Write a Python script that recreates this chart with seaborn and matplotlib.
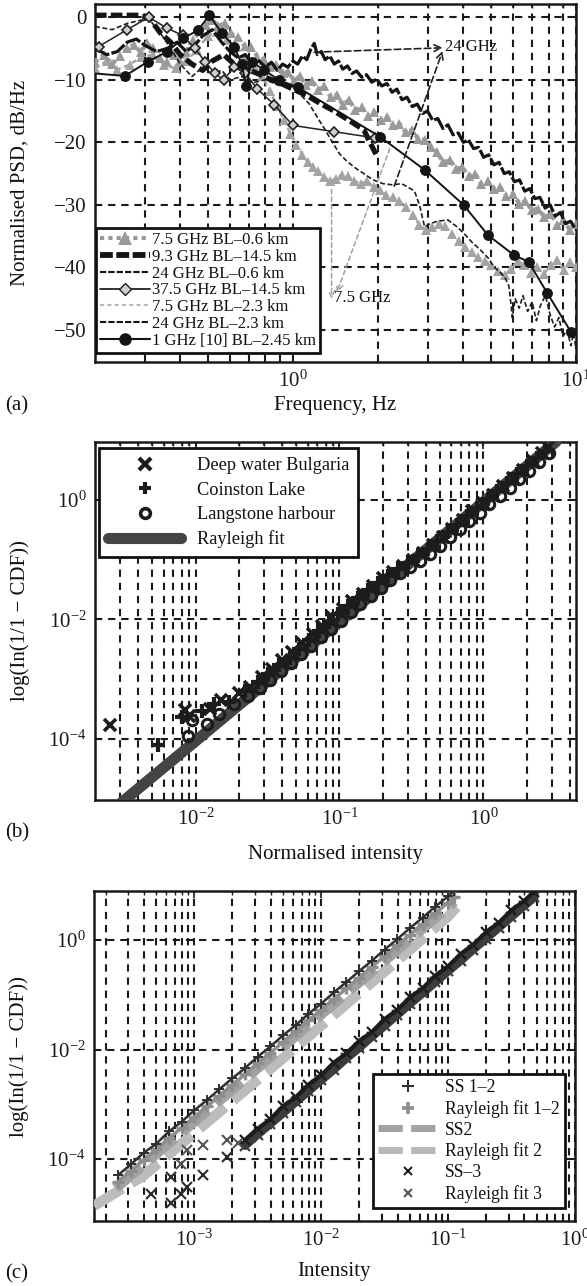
import numpy as np
import pandas as pd
import matplotlib
matplotlib.use("Agg")
import matplotlib.pyplot as plt
from matplotlib.lines import Line2D
from matplotlib.ticker import (FixedLocator, LogLocator, LogFormatterSciNotation,
                               MultipleLocator, NullFormatter, NullLocator)
import seaborn as sns

# ---------------------------------------------------------------- data (a)
f_75_06 = [0.200, 0.215, 0.230, 0.245, 0.260, 0.275, 0.290, 0.305, 0.320, 0.340,
           0.360, 0.380, 0.400, 0.420, 0.445, 0.470, 0.495, 0.520, 0.545, 0.575,
           0.605, 0.640, 0.675, 0.710, 0.750, 0.790, 0.830, 0.875, 0.920, 0.965,
           1.01, 1.06, 1.11, 1.17, 1.23, 1.29, 1.36, 1.43, 1.50, 1.58,
           1.66, 1.75, 1.84, 1.94, 2.04, 2.15, 2.26, 2.38, 2.50, 2.63,
           2.77, 2.92, 3.07, 3.23, 3.40, 3.58, 3.77, 3.97, 4.18, 4.40,
           4.63, 4.87, 5.13, 5.40, 5.68, 5.98, 6.30, 6.63, 6.98, 7.35,
           7.74, 8.15, 8.58, 9.03, 9.51, 10.0]
psd_75_06 = [-7.2, -6.0, -7.5, -6.2, -5.0, -4.4, -5.6, -4.2, -5.0, -6.6,
             -7.2, -6.0, -7.0, -5.5, -3.6, -2.2, -1.2, -0.5, -1.4, -1.0,
             -2.6, -3.2, -4.6, -4.8, -6.3, -6.8, -8.0, -7.6, -9.0, -8.7,
             -10.2, -9.4, -10.8, -10.2, -11.6, -11.0, -12.8, -12.4, -14.0, -13.2,
             -14.8, -14.4, -15.8, -15.2, -16.4, -15.9, -17.3, -17.0, -18.4, -18.0,
             -19.4, -19.6, -20.8, -21.6, -23.2, -22.8, -24.2, -24.0, -25.4, -25.0,
             -26.6, -26.2, -27.4, -27.2, -28.6, -28.2, -29.8, -29.4, -30.8, -30.6,
             -32.0, -31.4, -33.2, -32.4, -34.0, -33.0]

f_75_23 = [0.200, 0.220, 0.240, 0.265, 0.290, 0.320, 0.350, 0.385, 0.420, 0.460,
           0.500, 0.540, 0.585, 0.630, 0.680, 0.730, 0.780, 0.830, 0.880, 0.930,
           0.980, 1.03, 1.08, 1.13, 1.18, 1.23, 1.29, 1.35, 1.42, 1.49,
           1.57, 1.65, 1.74, 1.83, 1.93, 2.03, 2.14, 2.26, 2.38, 2.51,
           2.65, 2.80, 2.95, 3.11, 3.28, 3.46, 3.65, 3.85, 4.06, 4.28,
           4.52, 4.77, 5.03, 5.31, 5.60, 5.91, 6.23, 6.57, 6.93, 7.31,
           7.71, 8.13, 8.58, 9.05, 9.54, 10.0]
psd_75_23 = [-8.2, -7.0, -8.4, -7.6, -6.4, -6.0, -7.6, -8.2, -7.0, -5.2,
             -3.0, -2.4, -3.6, -4.8, -6.4, -7.8, -9.4, -11.8, -14.2, -16.4,
             -18.6, -20.4, -22.0, -23.2, -24.0, -24.6, -25.6, -26.2, -25.8, -25.2,
             -25.4, -26.2, -26.6, -26.2, -27.2, -27.6, -28.4, -28.8, -29.4, -30.4,
             -31.6, -33.2, -34.0, -33.6, -33.0, -33.4, -34.6, -35.8, -36.8, -37.6,
             -38.4, -39.0, -39.6, -40.6, -41.2, -40.2, -39.0, -39.6, -40.8, -40.0,
             -41.0, -39.6, -38.8, -40.4, -39.2, -40.0]

f_93 = [0.20, 0.24, 0.28, 0.31, 0.34, 0.37, 0.40, 0.44, 0.48, 0.52, 0.57, 0.62,
        0.68, 0.75, 0.82, 0.90, 1.00, 1.12, 1.25, 1.40, 1.58, 1.78, 1.97]
psd_93 = [0.3, 0.3, 0.3, 0.0, -2.5, -4.0, -6.0, -7.5, -8.5, -7.0, -6.0, -7.5,
          -8.2, -9.0, -9.8, -10.5, -11.5, -12.5, -13.8, -15.0, -16.5, -18.0, -22.0]

f_24_06 = [0.20, 0.22, 0.24, 0.26, 0.28, 0.30, 0.33, 0.36, 0.39, 0.42, 0.45, 0.48,
           0.52, 0.56, 0.60, 0.64, 0.68, 0.72, 0.76, 0.80, 0.84, 0.88, 0.92, 0.96,
           1.00, 1.04, 1.08, 1.12, 1.16, 1.19, 1.22, 1.26, 1.30, 1.35, 1.40, 1.45,
           1.50, 1.56, 1.62, 1.68, 1.75, 1.82, 1.90, 1.98, 2.06, 2.15, 2.24, 2.33,
           2.43, 2.53, 2.64, 2.75, 2.87, 2.99, 3.12, 3.25, 3.39, 3.53, 3.68, 3.84,
           4.00, 4.17, 4.35, 4.53, 4.72, 4.92, 5.13, 5.35, 5.58, 5.81, 6.06, 6.32,
           6.59, 6.87, 7.16, 7.46, 7.78, 8.11, 8.45, 8.81, 9.18, 9.57, 10.0]
psd_24_06 = [-5.0, -6.0, -5.5, -4.0, -3.5, -4.5, -5.5, -5.0, -4.0, -5.5, -4.5, -3.0,
             -2.0, -4.0, -5.5, -6.5, -6.0, -7.5, -7.0, -8.0, -7.2, -8.5, -7.5, -8.0,
             -7.0, -7.5, -6.2, -6.8, -5.0, -4.2, -6.0, -5.5, -6.8, -6.2, -7.5, -7.0,
             -8.3, -7.8, -9.0, -8.6, -9.6, -9.2, -10.4, -9.9, -11.0, -10.6, -12.0, -11.5,
             -13.2, -12.8, -14.3, -13.9, -15.4, -15.0, -16.5, -16.2, -17.8, -17.2, -18.8, -18.5,
             -20.0, -19.6, -21.0, -20.8, -22.4, -22.0, -23.6, -23.2, -25.0, -24.7, -26.3, -26.0,
             -27.8, -27.4, -29.0, -28.8, -30.5, -30.0, -31.8, -31.2, -33.0, -32.6, -34.0]

f_24_23 = [0.20, 0.23, 0.26, 0.29, 0.31, 0.34, 0.37, 0.40, 0.44, 0.48,
           0.52, 0.56, 0.60, 0.66, 0.72, 0.80, 0.88, 0.95, 1.00, 1.07,
           1.14, 1.22, 1.30, 1.38, 1.46, 1.55, 1.65, 1.78, 1.92, 2.08,
           2.25, 2.42, 2.56, 2.69, 2.80, 2.92, 3.05, 3.25, 3.53, 3.80,
           4.03, 4.30, 4.60, 4.90, 5.13, 5.40, 5.60, 5.80, 5.90, 5.96,
           6.10, 6.30, 6.50, 6.75, 7.00, 7.25, 7.50, 7.80, 8.10, 8.40,
           8.70, 9.00, 9.30, 9.60, 9.80, 10.0]
psd_24_23 = [-1.5, -2.0, -1.0, -0.5, -0.3, -2.5, -5.0, -7.5, -9.5, -8.0,
             -9.0, -8.5, -10.0, -9.5, -10.5, -10.0, -10.8, -11.0, -11.1, -12.5,
             -13.8, -16.0, -18.0, -20.0, -21.8, -23.0, -24.0, -25.0, -26.0, -26.6,
             -26.8, -26.6, -27.2, -27.8, -30.0, -33.5, -33.0, -32.6, -32.4, -33.5,
             -34.6, -36.0, -37.2, -38.5, -39.9, -40.8, -41.5, -43.0, -46.0, -48.0,
             -45.0, -46.5, -44.5, -47.0, -45.5, -48.5, -46.0, -44.5, -47.5, -49.5,
             -48.0, -51.0, -50.0, -52.5, -50.5, -53.0]

f_375 = [0.206, 0.26, 0.31, 0.36, 0.408, 0.45, 0.49, 0.53, 0.57, 0.62, 0.68, 0.75,
         0.86, 1.0, 1.4, 1.95]
psd_375 = [-4.7, -2.0, 0.0, -1.8, -2.9, -5.0, -7.1, -9.0, -10.0, -8.0, -9.0, -11.5,
           -14.0, -17.3, -18.3, -19.3]

f_1 = [0.20, 0.255, 0.308, 0.36, 0.409, 0.462, 0.507, 0.56, 0.62, 0.66, 0.683, 0.715,
       0.794, 0.897, 1.04, 2.03, 2.92, 4.01, 4.88, 6.03, 6.80, 7.92, 9.6]
psd_1 = [-9.0, -9.4, -7.1, -5.5, -3.4, -2.1, 0.3, -2.5, -4.7, -7.5, -11.0, -7.1,
         -8.5, -10.1, -11.2, -19.1, -24.4, -30.0, -34.8, -38.0, -39.1, -44.1, -50.3]

legend_a = ["7.5 GHz BL–0.6 km", "9.3 GHz BL–14.5 km", "24 GHz BL–0.6 km",
            "37.5 GHz BL–14.5 km", "7.5 GHz BL–2.3 km", "24 GHz BL–2.3 km",
            "1 GHz [10] BL–2.45 km"]

# ---------------------------------------------------------------- data (b)
bul_x = [0.00253, 0.0084, 0.0090, 0.0125, 0.0150, 0.0200, 0.024, 0.029, 0.034, 0.040,
         0.047, 0.055, 0.065, 0.076, 0.089, 0.105, 0.123, 0.145, 0.170, 0.200,
         0.235, 0.275, 0.325, 0.380, 0.445, 0.520, 0.610, 0.720, 0.840, 0.990,
         1.16, 1.36, 1.60, 1.88, 2.20, 2.55, 2.80]
bul_y = [1.7e-4, 3.0e-4, 2.4e-4, 3.2e-4, 4.5e-4, 5.9e-4, 7.5e-4, 1.1e-3, 1.5e-3, 2.1e-3,
         2.9e-3, 4.0e-3, 5.6e-3, 7.8e-3, 1.1e-2, 1.5e-2, 2.0e-2, 2.7e-2, 3.6e-2, 4.9e-2,
         6.3e-2, 7.9e-2, 0.100, 0.131, 0.176, 0.240, 0.330, 0.460, 0.640, 0.880,
         1.22, 1.68, 2.30, 3.20, 4.45, 6.10, 7.60]

coi_x = [0.0055, 0.0080, 0.0110, 0.0135, 0.0170, 0.022, 0.027, 0.032, 0.038, 0.045,
         0.052, 0.061, 0.072, 0.084, 0.098, 0.115, 0.135, 0.158, 0.185, 0.218,
         0.255, 0.300, 0.350, 0.410, 0.480, 0.565, 0.660, 0.775, 0.910, 1.07,
         1.25, 1.47, 1.72, 2.02, 2.36, 2.70]
coi_y = [8.0e-5, 2.3e-4, 2.9e-4, 3.8e-4, 4.2e-4, 6.3e-4, 8.8e-4, 1.2e-3, 1.7e-3, 2.3e-3,
         3.2e-3, 4.5e-3, 6.5e-3, 9.0e-3, 1.25e-2, 1.7e-2, 2.3e-2, 3.1e-2, 4.1e-2, 5.4e-2,
         6.9e-2, 8.8e-2, 0.113, 0.150, 0.205, 0.285, 0.385, 0.540, 0.740, 1.02,
         1.40, 1.95, 2.70, 3.70, 5.10, 6.70]

lan_x = [0.0088, 0.0094, 0.0120, 0.0145, 0.0185, 0.023, 0.028, 0.033, 0.039, 0.046,
         0.054, 0.063, 0.074, 0.087, 0.102, 0.120, 0.140, 0.165, 0.193, 0.226,
         0.265, 0.310, 0.365, 0.425, 0.500, 0.585, 0.685, 0.800, 0.940, 1.10,
         1.30, 1.52, 1.78, 2.08, 2.45, 2.85]
lan_y = [1.1e-4, 2.1e-4, 1.8e-4, 2.6e-4, 3.8e-4, 5.2e-4, 7.0e-4, 9.5e-4, 1.35e-3, 1.9e-3,
         2.6e-3, 3.6e-3, 5.0e-3, 7.0e-3, 9.5e-3, 1.35e-2, 1.8e-2, 2.5e-2, 3.3e-2, 4.5e-2,
         5.9e-2, 7.5e-2, 9.6e-2, 0.125, 0.170, 0.235, 0.320, 0.445, 0.610, 0.840,
         1.17, 1.60, 2.20, 3.05, 4.25, 6.20]

fit_b_x = [0.0030, 0.01, 0.03, 0.1, 0.3, 1.0, 3.2]
fit_b_y = [8.3e-6, 9.2e-5, 8.3e-4, 9.2e-3, 8.3e-2, 0.92, 9.4]

legend_b = ["Deep water Bulgaria", "Coinston Lake", "Langstone harbour", "Rayleigh fit"]

# ---------------------------------------------------------------- data (c)
ss12_x = [2.51e-4, 3.16e-4, 3.98e-4, 5.01e-4, 6.31e-4, 7.94e-4, 1.00e-3, 1.26e-3,
          1.58e-3, 2.00e-3, 2.51e-3, 3.16e-3, 3.98e-3, 5.01e-3, 6.31e-3, 7.94e-3,
          1.00e-2, 1.26e-2, 1.58e-2, 2.00e-2, 2.51e-2, 3.16e-2, 3.98e-2, 5.01e-2,
          6.31e-2, 7.94e-2, 0.100, 0.112]
ss12_y = [5.1e-5, 8.0e-5, 1.3e-4, 1.9e-4, 3.2e-4, 4.8e-4, 7.8e-4, 1.2e-3,
          1.9e-3, 3.0e-3, 4.6e-3, 7.4e-3, 1.14e-2, 1.82e-2, 2.8e-2, 4.5e-2,
          6.9e-2, 0.111, 0.171, 0.273, 0.42, 0.67, 1.04, 1.66,
          2.57, 4.1, 6.3, 8.0]
rf12_y = [3.9e-5, 6.1e-5, 9.6e-5, 1.5e-4, 2.4e-4, 3.7e-4, 5.8e-4, 9.2e-4,
          1.44e-3, 2.26e-3, 3.55e-3, 5.6e-3, 8.7e-3, 1.38e-2, 2.16e-2, 3.4e-2,
          5.3e-2, 8.4e-2, 0.131, 0.206, 0.324, 0.51, 0.80, 1.25,
          1.97, 3.09, 4.85, 6.1]

ss2_x = [2.4e-4, 5.01e-4, 1.26e-3, 3.16e-3, 7.94e-3, 2.0e-2, 5.01e-2, 0.112]
ss2_y = [2.95e-5, 1.25e-4, 7.6e-4, 4.62e-3, 2.81e-2, 0.171, 1.04, 5.04]
rf2_x = [1.62e-4, 3.98e-4, 1.0e-3, 2.51e-3, 6.31e-3, 1.58e-2, 3.98e-2, 0.1, 0.132]
rf2_y = [1.4e-5, 5.0e-5, 3.0e-4, 1.8e-3, 1.1e-2, 6.8e-2, 0.42, 2.7, 5.5]

ss3_x = [2.51e-3, 3.16e-3, 3.98e-3, 5.01e-3, 6.31e-3, 7.94e-3, 1.00e-2, 1.26e-2,
         1.58e-2, 2.00e-2, 2.51e-2, 3.16e-2, 3.98e-2, 5.01e-2, 6.31e-2, 7.94e-2,
         0.100, 0.126, 0.158, 0.200, 0.251, 0.316, 0.398, 0.479]
ss3_y = [2.25e-4, 3.6e-4, 5.4e-4, 9.3e-4, 1.35e-3, 2.3e-3, 3.4e-3, 5.8e-3,
         8.5e-3, 1.45e-2, 2.1e-2, 3.6e-2, 5.3e-2, 9.0e-2, 0.132, 0.225,
         0.33, 0.56, 0.83, 1.40, 2.08, 3.5, 5.2, 7.7]
rf3_y = [1.75e-4, 2.8e-4, 4.4e-4, 6.9e-4, 1.1e-3, 1.73e-3, 2.75e-3, 4.3e-3,
         6.9e-3, 1.08e-2, 1.72e-2, 2.7e-2, 4.3e-2, 6.8e-2, 0.107, 0.169,
         0.268, 0.42, 0.67, 1.06, 1.68, 2.65, 4.2, 6.0]
ss3_low_x = [4.6e-4, 6.5e-4, 6.5e-4, 7.8e-4, 8.8e-4, 1.18e-3, 1.8e-3]
ss3_low_y = [2.3e-5, 4.8e-5, 1.55e-5, 2.3e-5, 3.1e-5, 5.1e-5, 1.1e-4]
rf3_low_x = [7.8e-4, 8.8e-4, 1.18e-3, 1.8e-3, 2.2e-3]
rf3_low_y = [8.3e-5, 1.45e-4, 1.82e-4, 2.24e-4, 1.95e-4]

legend_c = ["SS 1–2", "Rayleigh fit 1–2", "SS2", "Rayleigh fit 2", "SS–3", "Rayleigh fit 3"]

# ---------------------------------------------------------------- style
sns.set_theme(style="white")
plt.rcParams.update({
    "font.family": ["Liberation Serif", "DejaVu Serif"],
    "mathtext.fontset": "custom",
    "mathtext.rm": "Liberation Serif",
    "mathtext.it": "Liberation Serif:italic",
    "mathtext.bf": "Liberation Serif:bold",
    "axes.unicode_minus": True,
    "font.size": 15,
    "axes.edgecolor": "#1a1a1a",
    "axes.linewidth": 1.8,
    "xtick.color": "#1a1a1a",
    "ytick.color": "#1a1a1a",
    "text.color": "#111111",
    "axes.labelcolor": "#111111",
})

GRID = dict(color="#1a1a1a", linestyle=(0, (3.5, 2.8)), linewidth=1.5)
BLACK = "#141414"

fig = plt.figure(figsize=(5.87, 12.86), dpi=100)
ax_a = fig.add_axes([0.1618, 0.7185, 0.8194, 0.2784])
ax_b = fig.add_axes([0.1618, 0.3779, 0.8194, 0.2784])
ax_c = fig.add_axes([0.1601, 0.0505, 0.8194, 0.2566])


def frame(ax):
    ax.tick_params(which="major", direction="in", length=5, width=1.2,
                   labelsize=15, pad=6, top=True, right=True)
    ax.tick_params(which="minor", direction="in", length=3, width=1.0,
                   top=True, right=True)
    ax.set_axisbelow(True)
    for s in ax.spines.values():
        s.set_linewidth(1.8)


def line(ax, x, y, **kw):
    # seaborn paints marker edges white unless told otherwise
    kw.setdefault("markeredgecolor", kw.get("color"))
    df = pd.DataFrame({"x": x, "y": y})
    sns.lineplot(data=df, x="x", y="y", ax=ax, estimator=None, sort=False,
                 legend=False, **kw)


# ---------------------------------------------------------------- panel (a)
ax = ax_a
ax.set_xscale("log")
ax.set_xlim(0.2, 10)
ax.set_ylim(-55.1, 2.1)
frame(ax)
ax.yaxis.set_major_locator(MultipleLocator(10))
ax.xaxis.set_major_locator(LogLocator(base=10))
ax.xaxis.set_minor_locator(LogLocator(base=10, subs=np.arange(2, 10)))
ax.xaxis.set_minor_formatter(NullFormatter())
ax.grid(True, which="both", axis="x", **GRID)
ax.grid(True, which="major", axis="y", **GRID)

line(ax, f_75_23, psd_75_23, color="#a4a4a4", linestyle=(0, (2, 1.5)), linewidth=1.8,
     marker="^", markersize=7.5, markeredgewidth=0, zorder=3)
line(ax, f_75_06, psd_75_06, color="#9a9a9a", linestyle=(0, (1, 1)), linewidth=3.0,
     marker="^", markersize=7.5, markeredgewidth=0, zorder=3)
line(ax, f_24_06, psd_24_06, color=BLACK, linestyle=(0, (5, 0.7)), linewidth=2.3, zorder=4)
line(ax, f_24_23, psd_24_23, color="#202020", linestyle=(0, (3, 1.5)), linewidth=1.2, zorder=4)
line(ax, f_93, psd_93, color=BLACK, linestyle=(0, (2.2, 0.8)), linewidth=3.8, zorder=5)
line(ax, f_375, psd_375, color="#222222", linestyle="-", linewidth=1.1, marker="D",
     markersize=5.5, markerfacecolor="#cfcfcf", markeredgecolor="#222222",
     markeredgewidth=1.2, zorder=5)
line(ax, f_1, psd_1, color=BLACK, linestyle="-", linewidth=1.4, marker="o",
     markersize=7, markerfacecolor=BLACK, markeredgecolor=BLACK,
     markevery=list(range(1, len(f_1))), zorder=6)

# annotations pointing to the frequency labels
ax.text(3.45, -4.8, "24 GHz", fontsize=12, ha="left", va="center", zorder=7)
ax.text(1.40, -44.8, "7.5 GHz", fontsize=12, ha="left", va="center", zorder=7)
arrows_24 = [((1.19, -5.6), (3.38, -4.9)), ((2.28, -27.0), (3.38, -5.4))]
arrows_75 = [((1.37, -27.5), (1.37, -45.0)), ((2.20, -21.0), (1.43, -44.0))]
for start, end in arrows_24:
    ax.annotate("", xy=end, xytext=start, zorder=7,
                arrowprops=dict(arrowstyle="->", color="#202020", lw=1.2,
                                linestyle=(0, (4, 2)), mutation_scale=12,
                                shrinkA=0, shrinkB=0))
for start, end in arrows_75:
    ax.annotate("", xy=end, xytext=start, zorder=7,
                arrowprops=dict(arrowstyle="->", color="#a0a0a0", lw=1.1,
                                linestyle=(0, (3, 2)), mutation_scale=12,
                                shrinkA=0, shrinkB=0))

handles_a = [
    Line2D([], [], color="#9a9a9a", linestyle=(0, (1, 1)), linewidth=3,
           marker="^", markersize=10, markeredgewidth=0),
    Line2D([], [], color=BLACK, linestyle=(0, (2.2, 0.6)), linewidth=4.2),
    Line2D([], [], color=BLACK, linestyle=(0, (3, 1)), linewidth=1.5),
    Line2D([], [], color="#222222", linestyle="-", linewidth=1.3, marker="D",
           markersize=6, markerfacecolor="#cfcfcf", markeredgecolor="#222222"),
    Line2D([], [], color="#b8b8b8", linestyle=(0, (2, 1.5)), linewidth=1.5),
    Line2D([], [], color=BLACK, linestyle=(0, (3, 1)), linewidth=1.5),
    Line2D([], [], color=BLACK, linestyle="-", linewidth=1.5, marker="o",
           markersize=8),
]
leg = ax.legend(handles_a, legend_a, loc="lower left", bbox_to_anchor=(0.002, 0.025),
                fontsize=12, frameon=True, fancybox=False, framealpha=1,
                edgecolor="#111111", borderpad=0.25, labelspacing=0.05,
                handlelength=3.0, handletextpad=0.1, borderaxespad=0)
leg.get_frame().set_linewidth(2.0)
leg.set_zorder(10)

ax.set_xlabel("Frequency, Hz", fontsize=15)
ax.set_ylabel("Normalised PSD, dB/Hz", fontsize=15)
ax.xaxis.set_label_coords(0.5, -0.095)
ax.yaxis.set_label_coords(-0.135, 0.5)

# ---------------------------------------------------------------- panel (b)
ax = ax_b
ax.set_xscale("log")
ax.set_yscale("log")
ax.set_xlim(2.0e-3, 4.4)
ax.set_ylim(9.5e-6, 9.3)
frame(ax)
ax.xaxis.set_major_locator(LogLocator(base=10))
ax.xaxis.set_minor_locator(LogLocator(base=10, subs=np.arange(2, 10)))
ax.xaxis.set_minor_formatter(NullFormatter())
ax.yaxis.set_major_locator(FixedLocator([1e-4, 1e-2, 1e0]))
ax.yaxis.set_major_formatter(LogFormatterSciNotation())
ax.yaxis.set_minor_locator(NullLocator())
ax.grid(True, which="both", axis="x", **GRID)
ax.grid(True, which="major", axis="y", **GRID)

line(ax, fit_b_x, fit_b_y, color="#444444", linewidth=8, zorder=3)
line(ax, lan_x, lan_y, color="#1c1c1c", linestyle="none", marker="o",
     markersize=7.5, markerfacecolor="none", markeredgecolor="#1c1c1c",
     markeredgewidth=2.2, zorder=4)
line(ax, bul_x, bul_y, color="#1c1c1c", linestyle="none", marker="x",
     markersize=9, markeredgewidth=2.6, zorder=4)
line(ax, coi_x, coi_y, color="#1c1c1c", linestyle="none", marker="+",
     markersize=10, markeredgewidth=3.0, zorder=4)

handles_b = [
    Line2D([], [], color="#1c1c1c", linestyle="none", marker="x", markersize=9,
           markeredgewidth=3),
    Line2D([], [], color="#1c1c1c", linestyle="none", marker="+", markersize=9,
           markeredgewidth=3),
    Line2D([], [], color="#1c1c1c", linestyle="none", marker="o", markersize=7,
           markerfacecolor="none", markeredgewidth=2.6),
    Line2D([], [], color="#444444", linewidth=8),
]
leg = ax.legend(handles_b, legend_b, loc="upper left", bbox_to_anchor=(0.008, 0.983),
                fontsize=13.2, frameon=True, fancybox=False, framealpha=1,
                edgecolor="#111111", borderpad=0.5, labelspacing=0.4,
                handlelength=4.0, handletextpad=0.85, borderaxespad=0)
leg.get_frame().set_linewidth(2.0)
leg.set_zorder(10)

ax.set_xlabel("Normalised intensity", fontsize=15)
ax.set_ylabel("log(In(1/1 − CDF))", fontsize=15)
ax.xaxis.set_label_coords(0.5, -0.125)
ax.yaxis.set_label_coords(-0.135, 0.5)

# ---------------------------------------------------------------- panel (c)
ax = ax_c
ax.set_xscale("log")
ax.set_yscale("log")
ax.set_xlim(1.62e-4, 1.0)
ax.set_ylim(7.4e-6, 7.85)
frame(ax)
ax.xaxis.set_major_locator(LogLocator(base=10))
ax.xaxis.set_minor_locator(LogLocator(base=10, subs=np.arange(2, 10)))
ax.xaxis.set_minor_formatter(NullFormatter())
ax.yaxis.set_major_locator(FixedLocator([1e-4, 1e-2, 1e0]))
ax.yaxis.set_major_formatter(LogFormatterSciNotation())
ax.yaxis.set_minor_locator(NullLocator())
ax.grid(True, which="both", axis="x", **GRID)
ax.grid(True, which="major", axis="y", **GRID)

line(ax, rf2_x, rf2_y, color="#bcbcbc", linestyle=(0, (3.2, 1.0)), linewidth=7.5, zorder=3)
line(ax, ss2_x, ss2_y, color="#a2a2a2", linestyle=(0, (3.2, 1.0)), linewidth=7.5, zorder=3)
line(ax, ss12_x, rf12_y, color="#8e8e8e", linestyle="-", linewidth=2.5, marker="+",
     markersize=8, markeredgewidth=2.4, zorder=4)
line(ax, ss12_x, ss12_y, color="#303030", linestyle="-", linewidth=1.8, marker="+",
     markersize=7, markeredgewidth=1.4, zorder=5)
line(ax, ss3_x, rf3_y, color="#3c3c3c", linestyle="-", linewidth=6, marker="x",
     markersize=7, markeredgewidth=1.6, zorder=4)
line(ax, ss3_x, ss3_y, color="#1c1c1c", linestyle="-", linewidth=3, marker="x",
     markersize=7, markeredgewidth=1.6, zorder=5)
line(ax, ss3_low_x, ss3_low_y, color="#2a2a2a", linestyle="none", marker="x",
     markersize=7, markeredgewidth=1.5, zorder=5)
line(ax, rf3_low_x, rf3_low_y, color="#555555", linestyle="none", marker="x",
     markersize=7, markeredgewidth=1.5, zorder=5)

handles_c = [
    Line2D([], [], color="#303030", linestyle="none", marker="+", markersize=8,
           markeredgewidth=1.5),
    Line2D([], [], color="#8e8e8e", linestyle="none", marker="+", markersize=8,
           markeredgewidth=2.6),
    Line2D([], [], color="#a2a2a2", linestyle=(0, (3.5, 1.2)), linewidth=5),
    Line2D([], [], color="#b8b8b8", linestyle=(0, (3.5, 1.2)), linewidth=5),
    Line2D([], [], color="#222222", linestyle="none", marker="x", markersize=6,
           markeredgewidth=1.5),
    Line2D([], [], color="#555555", linestyle="none", marker="x", markersize=6,
           markeredgewidth=1.5),
]
leg = ax.legend(handles_c, legend_c, loc="lower right", bbox_to_anchor=(0.980, 0.0385),
                fontsize=12.7, frameon=True, fancybox=False, framealpha=1,
                edgecolor="#111111", borderpad=0.3, labelspacing=0.22,
                handlelength=3.4, handletextpad=0.4, borderaxespad=0)
leg.get_frame().set_linewidth(2.0)
leg.set_zorder(10)

ax.set_xlabel("Intensity", fontsize=15)
ax.set_ylabel("log(In(1/1 − CDF))", fontsize=15)
ax.xaxis.set_label_coords(0.5, -0.125)
ax.yaxis.set_label_coords(-0.135, 0.5)

# panel letters
fig.text(0.008, 1 - 406 / 1286, "(a)", fontsize=15, va="center", ha="left")
fig.text(0.008, 1 - 833 / 1286, "(b)", fontsize=15, va="center", ha="left")
fig.text(0.008, 1 - 1274 / 1286, "(c)", fontsize=15, va="center", ha="left")

fig.savefig("out.png", dpi=100, facecolor="white")
